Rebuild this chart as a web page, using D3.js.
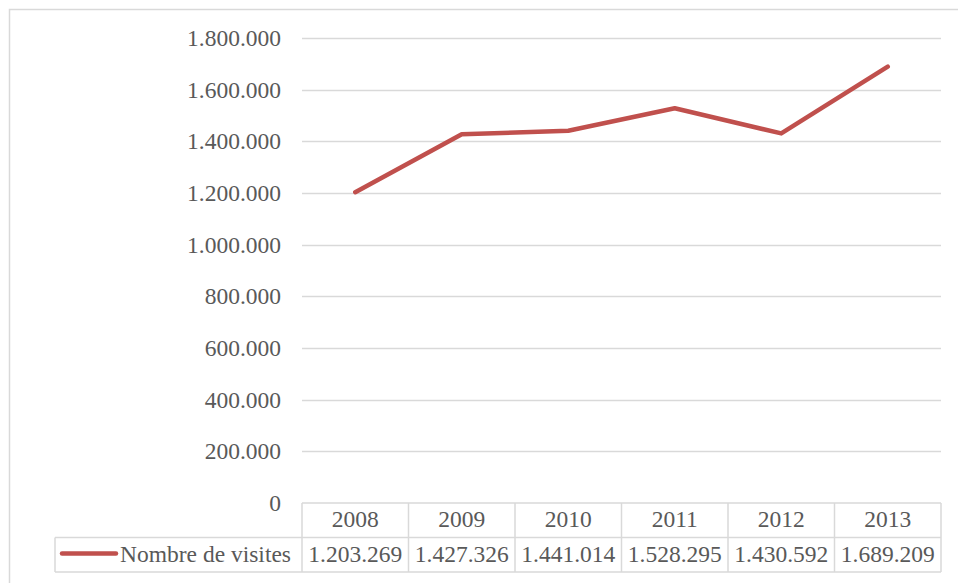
<!DOCTYPE html>
<html>
<head>
<meta charset="utf-8">
<script src="https://cdn.jsdelivr.net/npm/d3@7"></script>
<style>
  body { margin: 0; background: #fff; }
  svg text { font-family: "Liberation Serif", "Times New Roman", Times, serif; fill: #595959; }
</style>
</head>
<body>
<svg id="chart" width="958" height="583"></svg>
<script>
// data
var years = ["2008", "2009", "2010", "2011", "2012", "2013"];
var visites = [1203269, 1427326, 1441014, 1528295, 1430592, 1689209];
var yTicks = [0, 200000, 400000, 600000, 800000, 1000000, 1200000, 1400000, 1600000, 1800000];
var seriesName = "Nombre de visites";

var svg = d3.select("#chart");
var plotLeft = 302, plotRight = 941, plotTop = 38, plotBottom = 503;
var rowH = 34.5;
var fs = "23.5px";

// outer frame
svg.append("rect")
  .attr("x", 9.5).attr("y", 9.5)
  .attr("width", 958).attr("height", 600)
  .attr("fill", "none").attr("stroke", "#d9d9d9").attr("stroke-width", 1.5);

var x = d3.scaleBand().domain(years).range([plotLeft, plotRight]);
var y = d3.scaleLinear().domain([0, 1800000]).range([plotBottom, plotTop]);

var fmt = function (v) { return d3.format(",")(v).replace(/,/g, "."); };

// gridlines
svg.append("g").selectAll("line")
  .data(yTicks.filter(function (d) { return d > 0; }))
  .enter().append("line")
  .attr("x1", plotLeft).attr("x2", plotRight)
  .attr("y1", function (d) { return Math.round(y(d)) + 0.5; })
  .attr("y2", function (d) { return Math.round(y(d)) + 0.5; })
  .attr("stroke", "#d9d9d9").attr("stroke-width", 1.3);

// y labels
svg.append("g").selectAll("text")
  .data(yTicks)
  .enter().append("text")
  .attr("x", 281)
  .attr("y", function (d) { return y(d) + 8; })
  .attr("text-anchor", "end")
  .attr("font-size", fs)
  .text(function (d) { return fmt(d); });

// data table
var tbl = svg.append("g");
var gridColor = "#d9d9d9";
tbl.append("line").attr("x1", plotLeft).attr("x2", plotRight).attr("y1", plotBottom).attr("y2", plotBottom)
  .attr("stroke", gridColor).attr("stroke-width", 1.5);
tbl.append("line").attr("x1", 55).attr("x2", plotRight).attr("y1", plotBottom + rowH).attr("y2", plotBottom + rowH)
  .attr("stroke", gridColor).attr("stroke-width", 1.5);
tbl.append("line").attr("x1", 55).attr("x2", plotRight).attr("y1", plotBottom + 2 * rowH).attr("y2", plotBottom + 2 * rowH)
  .attr("stroke", gridColor).attr("stroke-width", 1.5);
tbl.append("line").attr("x1", 55).attr("x2", 55).attr("y1", plotBottom + rowH).attr("y2", plotBottom + 2 * rowH)
  .attr("stroke", gridColor).attr("stroke-width", 1.5);

var edges = years.map(function (d) { return x(d); }).concat([plotRight]);
tbl.selectAll("line.v")
  .data(edges)
  .enter().append("line")
  .attr("class", "v")
  .attr("x1", function (d) { return d; }).attr("x2", function (d) { return d; })
  .attr("y1", plotBottom).attr("y2", plotBottom + 2 * rowH)
  .attr("stroke", gridColor).attr("stroke-width", 1.5);

tbl.selectAll("text.yr")
  .data(years)
  .enter().append("text")
  .attr("class", "yr")
  .attr("x", function (d) { return x(d) + x.bandwidth() / 2; })
  .attr("y", plotBottom + 24)
  .attr("text-anchor", "middle")
  .attr("font-size", fs)
  .text(function (d) { return d; });

tbl.selectAll("text.val")
  .data(visites)
  .enter().append("text")
  .attr("class", "val")
  .attr("x", function (d, i) { return x(years[i]) + x.bandwidth() / 2; })
  .attr("y", plotBottom + rowH + 24)
  .attr("text-anchor", "middle")
  .attr("font-size", fs)
  .text(function (d) { return fmt(d); });

// legend key
tbl.append("line")
  .attr("x1", 62).attr("x2", 116)
  .attr("y1", plotBottom + rowH + 16).attr("y2", plotBottom + rowH + 16)
  .attr("stroke", "#c0504d").attr("stroke-width", 4.5).attr("stroke-linecap", "round");
tbl.append("text")
  .attr("x", 120).attr("y", plotBottom + rowH + 24)
  .attr("font-size", fs)
  .text(seriesName);

// line
var line = d3.line()
  .x(function (d, i) { return x(years[i]) + x.bandwidth() / 2; })
  .y(function (d) { return y(d); });

svg.append("path")
  .datum(visites)
  .attr("d", line)
  .attr("fill", "none")
  .attr("stroke", "#c0504d")
  .attr("stroke-width", 4.5)
  .attr("stroke-linecap", "round")
  .attr("stroke-linejoin", "round");
</script>
</body>
</html>
